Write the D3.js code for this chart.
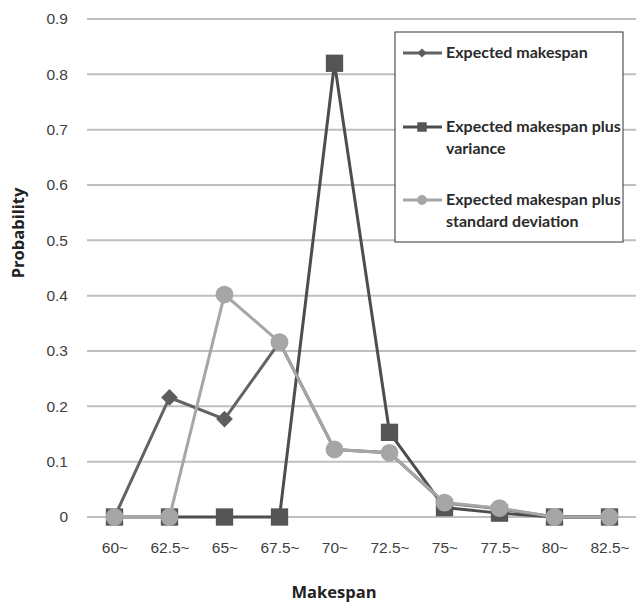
<!DOCTYPE html>
<html>
<head>
<meta charset="utf-8">
<script src="https://cdn.jsdelivr.net/npm/d3@7"></script>
<style>
  body { margin: 0; background: #fff; }
  svg { display: block; font-family: "Open Sans", "DejaVu Sans", sans-serif; }
</style>
</head>
<body>
<div id="chart-area"></div>
<script>
// data
var categories = ["60~", "62.5~", "65~", "67.5~", "70~", "72.5~", "75~", "77.5~", "80~", "82.5~"];
var expected = [0, 0.216, 0.177, 0.316, 0.122, 0.116, 0.025, 0.015, 0, 0];
var plusVariance = [0, 0, 0, 0, 0.82, 0.153, 0.017, 0.007, 0, 0];
var plusStdDev = [0, 0, 0.402, 0.316, 0.122, 0.116, 0.026, 0.016, 0, 0];
var yTicks = [0, 0.1, 0.2, 0.3, 0.4, 0.5, 0.6, 0.7, 0.8, 0.9];
var seriesNames = ["Expected makespan", "Expected makespan plus variance", "Expected makespan plus standard deviation"];

var margin = { top: 19, right: 0, bottom: 85, left: 87 },
    width = 637 - margin.left - margin.right,
    height = 602 - margin.top - margin.bottom;

var svg = d3.select("#chart-area")
    .append("svg")
    .attr("width", 636)
    .attr("height", 602)
    .append("g")
    .attr("transform", `translate(${margin.left},${margin.top})`);

var x = d3.scalePoint().domain(categories).range([0, width]).padding(0.5);
var y = d3.scaleLinear().domain([0, 0.9]).range([height, 0]);

// gridlines
svg.append("g")
    .attr("class", "grid")
    .selectAll("line")
    .data(yTicks)
    .enter()
    .append("line")
    .attr("x1", 0)
    .attr("x2", width)
    .attr("y1", d => y(d))
    .attr("y2", d => y(d))
    .attr("stroke", "#bfbfbf")
    .attr("stroke-width", 2);

var yAxis = d3.axisLeft(y).tickValues(yTicks).tickSize(0).tickPadding(19)
    .tickFormat(d => d === 0 ? "0" : d3.format(".1f")(d));
var yG = svg.append("g").call(yAxis);
yG.select(".domain").remove();
yG.selectAll("text").attr("font-size", "15.5px").attr("fill", "#404040");

var xAxis = d3.axisBottom(x).tickSize(0).tickPadding(25);
var xG = svg.append("g").attr("transform", `translate(0,${height})`).call(xAxis);
xG.select(".domain").remove();
xG.selectAll("text").attr("font-size", "15.5px").attr("fill", "#404040");

svg.append("text")
    .attr("x", 334 - margin.left)
    .attr("y", 598 - margin.top)
    .attr("text-anchor", "middle")
    .attr("font-size", "16.5px")
    .attr("font-weight", "bold")
    .attr("fill", "#222")
    .text("Makespan");

svg.append("text")
    .attr("transform", "rotate(-90)")
    .attr("x", -(233 - margin.top))
    .attr("y", 24 - margin.left)
    .attr("text-anchor", "middle")
    .attr("font-size", "16.5px")
    .attr("font-weight", "bold")
    .attr("fill", "#222")
    .text("Probability");

var series = [
    { name: seriesNames[0], values: expected, line: "#636363", fill: "#5e5e5e", shape: d3.symbolSquare, size: 140, rot: 45 },
    { name: seriesNames[1], values: plusVariance, line: "#4d4d4d", fill: "#555555", shape: d3.symbolSquare, size: 300, rot: 0 },
    { name: seriesNames[2], values: plusStdDev, line: "#a6a6a6", fill: "#a6a6a6", shape: d3.symbolCircle, size: 250, rot: 0 }
];

var line = d3.line()
    .x((d, i) => x(categories[i]))
    .y(d => y(d));

series.forEach(s => {
    var g = svg.append("g");
    g.append("path")
        .attr("d", line(s.values))
        .attr("fill", "none")
        .attr("stroke", s.line)
        .attr("stroke-width", 3);
    g.selectAll("path.marker")
        .data(s.values)
        .enter()
        .append("path")
        .attr("class", "marker")
        .attr("transform", (d, i) => `translate(${x(categories[i])},${y(d)}) rotate(${s.rot})`)
        .attr("d", d3.symbol().type(s.shape).size(s.size))
        .attr("fill", s.fill);
});

// legend
var legend = d3.select("svg").append("g").attr("transform", "translate(395,32)");
legend.append("rect")
    .attr("width", 228)
    .attr("height", 210)
    .attr("fill", "#fff")
    .attr("stroke", "#333")
    .attr("stroke-width", 1);

var legendLines = [["Expected makespan"], ["Expected makespan plus", "variance"], ["Expected makespan plus", "standard deviation"]];
var rowY = [21, 95, 168];

var row = legend.selectAll(".legend-row")
    .data(series)
    .enter()
    .append("g")
    .attr("class", "legend-row")
    .attr("transform", (d, i) => `translate(0,${rowY[i]})`);

row.append("line")
    .attr("x1", 8).attr("x2", 47)
    .attr("y1", 0).attr("y2", 0)
    .attr("stroke", d => d.line)
    .attr("stroke-width", 3);

row.append("path")
    .attr("transform", d => `translate(27,0) rotate(${d.rot})`)
    .attr("d", d => d3.symbol().type(d.shape).size(d.size * 0.3)())
    .attr("fill", d => d.fill);

row.append("text")
    .attr("x", 51)
    .attr("y", 5)
    .attr("font-family", "Lato, 'Liberation Sans', sans-serif")
    .attr("font-size", "16px")
    .attr("font-weight", "bold")
    .attr("fill", "#2a2a2a")
    .selectAll("tspan")
    .data((d, i) => legendLines[i])
    .enter()
    .append("tspan")
    .attr("x", 51)
    .attr("dy", (d, i) => i === 0 ? 0 : 22)
    .text(d => d);
</script>
</body>
</html>
